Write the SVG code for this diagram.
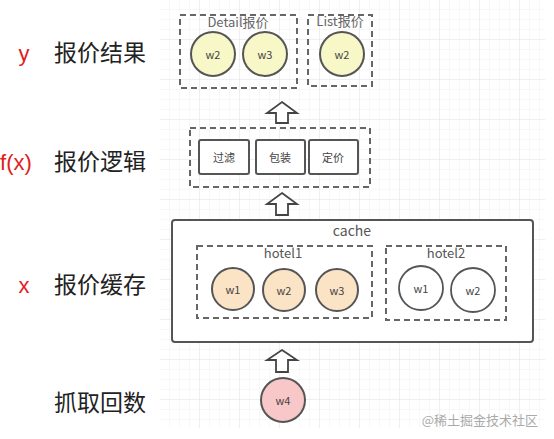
<svg xmlns="http://www.w3.org/2000/svg" width="554" height="439" viewBox="0 0 554 439">
<defs>
<pattern id="grid" x="0" y="0" width="10" height="10" patternUnits="userSpaceOnUse">
<path d="M10 0V10M0 10H10" fill="none" stroke="#f0f0f0" stroke-width="1"/>
</pattern>
<pattern id="grid2" x="0" y="0" width="40" height="40" patternUnits="userSpaceOnUse">
<path d="M40 0V40M0 40H40" fill="none" stroke="#e6e6e6" stroke-width="1"/>
</pattern>
</defs>
<style>
.lbl{font-family:"Noto Sans CJK SC","Liberation Sans",sans-serif;font-size:23px;fill:#222;}
.var{font-family:"Liberation Sans","Noto Sans",sans-serif;font-size:22px;fill:#e02020;}
.dash{fill:none;stroke:#666;stroke-width:2;stroke-dasharray:6 4;}
.box{fill:#fff;stroke:#555;stroke-width:2;}
.t{font-family:"Noto Sans CJK SC","Liberation Sans",sans-serif;font-size:11px;fill:#444;text-anchor:middle;dominant-baseline:central;}
.tl{font-family:"Noto Sans CJK SC","Liberation Sans",sans-serif;font-size:13px;fill:#555;text-anchor:middle;dominant-baseline:central;}
.cy{fill:#f7f7c8;stroke:#555;stroke-width:2;}
.co{fill:#fbe3c6;stroke:#555;stroke-width:2;}
.cw{fill:#fff;stroke:#555;stroke-width:1.8;}
.cp{fill:#f8c8c8;stroke:#555;stroke-width:2;}
.arr{fill:#fff;stroke:#444;stroke-width:1.8;stroke-linejoin:miter;}
</style>
<rect width="554" height="439" fill="#fff"/>
<rect x="160" y="0" width="385" height="428" fill="url(#grid)"/>
<rect x="160" y="0" width="385" height="428" fill="url(#grid2)"/>

<g id="left-labels">
<text class="var" x="24" y="61" text-anchor="middle">y</text>
<text class="lbl" x="54" y="61">报价结果</text>
<text class="var" x="16" y="170" text-anchor="middle">f(x)</text>
<text class="lbl" x="54" y="170">报价逻辑</text>
<text class="var" x="24" y="293" text-anchor="middle">x</text>
<text class="lbl" x="54" y="293">报价缓存</text>
<text class="lbl" x="54" y="411">抓取回数</text>
</g>

<g id="detail">
<rect class="dash" x="180" y="15" width="117" height="73"/>
<text class="tl" x="238" y="21" style="fill:#666">Detail报价</text>
<circle class="cy" cx="213" cy="54" r="22"/>
<text class="t" x="213" y="54">w2</text>
<circle class="cy" cx="265" cy="54" r="22"/>
<text class="t" x="265" y="54">w3</text>
</g>

<g id="list">
<rect class="dash" x="308" y="15" width="64" height="71"/>
<text class="tl" x="340" y="20" style="fill:#666">List报价</text>
<circle class="cy" cx="342" cy="54" r="22"/>
<text class="t" x="342" y="54">w2</text>
</g>

<g id="logic">
<rect class="dash" x="190" y="128" width="180" height="59"/>
<g id="filter"><rect class="box" x="199" y="140" width="50" height="34" rx="2"/><text class="t" x="224" y="157">过滤</text></g>
<g id="wrap"><rect class="box" x="256" y="140" width="49" height="34" rx="2"/><text class="t" x="280" y="157">包装</text></g>
<g id="price"><rect class="box" x="309" y="140" width="49" height="34" rx="2"/><text class="t" x="333" y="157">定价</text></g>
</g>

<g id="cache">
<rect x="172" y="220" width="361" height="122" rx="3" fill="#fff" stroke="#555" stroke-width="2"/>
<text class="tl" x="352" y="230" style="font-size:14px">cache</text>
<g id="hotel1">
<rect class="dash" x="197" y="246" width="175" height="72"/>
<text class="tl" x="283" y="252">hotel1</text>
<circle class="co" cx="233" cy="289" r="21"/><text class="t" x="233" y="289">w1</text>
<circle class="co" cx="284" cy="290" r="21"/><text class="t" x="284" y="290">w2</text>
<circle class="co" cx="337" cy="290" r="21"/><text class="t" x="337" y="290">w3</text>
</g>
<g id="hotel2">
<rect class="dash" x="386" y="246" width="120" height="74"/>
<text class="tl" x="446" y="252">hotel2</text>
<circle class="cw" cx="421" cy="288" r="22"/><text class="t" x="421" y="288">w1</text>
<circle class="cw" cx="473" cy="290" r="22"/><text class="t" x="473" y="290">w2</text>
</g>
</g>

<g id="fetch">
<circle class="cp" cx="283" cy="400" r="22"/>
<text class="t" x="283" y="400">w4</text>
</g>

<g id="connectors">
<path class="arr" d="M282 102 L297 113 L288 113 L288 123 L276 123 L276 113 L267 113 Z"/>
<path class="arr" d="M282 193 L297 204 L288 204 L288 215 L276 215 L276 204 L267 204 Z"/>
<path class="arr" d="M282 350 L297 360 L288 360 L288 372 L276 372 L276 360 L267 360 Z"/>
</g>

<text x="538" y="425" text-anchor="end" style="font-family:'Noto Sans CJK SC',sans-serif;font-size:13px;fill:#aaa">@稀土掘金技术社区</text>
</svg>
